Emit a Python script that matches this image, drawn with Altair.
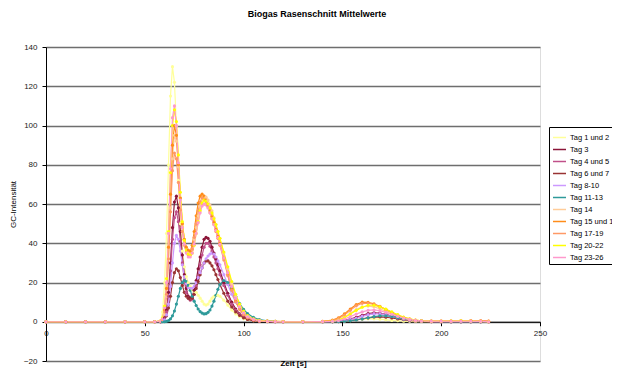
import altair as alt
import pandas as pd

TIME = [0, 10, 20, 30, 40, 50, 55, 58,
        59, 60, 61, 62, 63, 64, 65, 66, 67, 68, 69, 70, 71, 72, 73, 74, 75, 76, 77, 78, 79, 80,
        81, 82, 83, 84, 85, 86, 87, 88, 90, 92, 94, 96, 98, 100, 102, 105, 108, 112, 116, 120,
        130, 140, 145, 148, 151, 154, 157, 160, 163, 166, 169, 172, 175, 178, 181, 184, 187, 190,
        195, 200, 205, 210, 215, 220, 224]

SERIES = ["Tag 1 und 2", "Tag 3", "Tag 4 und 5", "Tag 6 und 7", "Tag 8-10", "Tag 11-13",
          "Tag 14", "Tag 15 und 16", "Tag 17-19", "Tag 20-22", "Tag 23-26"]
COLORS = ["#FFFF99", "#8B1538", "#C0508A", "#993333", "#CC99FF", "#2E9A9A",
          "#FFCC99", "#FF8C1A", "#FF9966", "#FFFF00", "#FF99CC"]

tag_1_2 = [0, 0, 0, 0, 0, 0, 0, 0.5,
           5, 20, 45, 80, 115, 130, 122, 100, 72, 50, 36, 28, 23, 20, 18, 16.5, 15.5, 15, 13.5, 12, 10.5, 9,
           8.5, 9, 10.5, 12, 13, 13.5, 13.5, 13, 11, 8.5, 6, 4, 2.5, 1.5, 1, 0.5, 0.3, 0.2, 0.1, 0,
           0, 0, 0, 0.1, 0.3, 0.6, 1, 1.3, 1.5, 1.5, 1.3, 1, 0.7, 0.5, 0.3, 0.2, 0.1, 0.1,
           0, 0, 0, 0, 0, 0, 0]
tag_3 = [0, 0, 0, 0, 0, 0, 0, 0,
         0.5, 2, 6, 15, 30, 48, 61, 64, 58, 46, 34, 24, 17, 13, 12, 13, 16, 21, 27, 33, 38, 42,
         43, 42.5, 41, 38, 35, 32, 29, 26, 20, 14.5, 10, 6.5, 4, 2.5, 1.5, 0.8, 0.4, 0.2, 0.1, 0,
         0, 0, 0.1, 0.3, 0.7, 1.4, 2.3, 3.3, 4.1, 4.5, 4.3, 3.7, 2.9, 2.1, 1.4, 0.9, 0.5, 0.3,
         0.1, 0, 0, 0, 0, 0, 0]
tag_4_5 = [0, 0, 0, 0, 0, 0, 0, 0,
           0.4, 1.5, 5, 13, 26, 42, 53, 56, 51, 41, 30, 21, 15, 12, 11, 11.5, 14, 18, 23, 29, 34, 38,
           40, 40, 38.5, 36, 33, 30, 27, 24, 18.5, 13.5, 9, 6, 3.8, 2.3, 1.4, 0.7, 0.4, 0.2, 0.1, 0,
           0, 0, 0.1, 0.3, 0.6, 1.2, 2, 3, 3.9, 4.4, 4.3, 3.7, 2.9, 2.1, 1.4, 0.9, 0.5, 0.3,
           0.1, 0, 0, 0, 0, 0, 0]
tag_6_7 = [0, 0, 0, 0, 0, 0, 0, 0,
           0.2, 1, 3, 7, 13, 20, 25, 27, 26, 22.5, 18.5, 15, 13, 12, 11.5, 12, 14, 17, 20.5, 24, 27.5, 30,
           31, 31, 30, 28.5, 26.5, 24, 21.5, 19, 14.5, 10.5, 7.5, 5, 3.2, 2, 1.2, 0.6, 0.3, 0.1, 0, 0,
           0, 0, 0, 0.1, 0.3, 0.6, 1, 1.5, 2, 2.4, 2.5, 2.3, 1.9, 1.4, 1, 0.6, 0.4, 0.2,
           0.1, 0, 0, 0, 0, 0, 0]
tag_8_10 = [0, 0, 0, 0, 0, 0, 0, 0,
            0.2, 1, 3.5, 9, 18, 30, 40, 44, 42, 36, 29, 23, 19.5, 17.5, 17, 17, 18, 20, 22.5, 25, 27.5, 30,
            32, 33.5, 34.5, 35, 34.5, 33, 31, 29, 24, 19, 14, 10, 6.8, 4.5, 2.8, 1.5, 0.8, 0.3, 0.1, 0,
            0, 0, 0.1, 0.3, 0.6, 1.1, 1.8, 2.7, 3.5, 4, 4, 3.5, 2.8, 2, 1.3, 0.8, 0.5, 0.3,
            0.1, 0, 0, 0, 0, 0, 0]
tag_11_13 = [0, 0, 0, 0, 0, 0, 0, 0,
             0, 0, 0.2, 0.6, 1.5, 3, 5.5, 9, 13, 17, 20, 21, 20.5, 18.5, 16, 13, 10.5, 8.3, 6.5, 5.2, 4.4, 4,
             4.1, 4.8, 6, 8, 10.5, 13.5, 16.5, 19, 21, 20, 17, 13, 9.3, 6.3, 4.2, 2.2, 1.1, 0.4, 0.15, 0,
             0, 0, 0, 0.1, 0.2, 0.5, 0.9, 1.4, 2, 2.6, 3, 3, 2.7, 2.1, 1.5, 1, 0.6, 0.4,
             0.2, 0.1, 0, 0, 0, 0, 0]
tag_14 = [0, 0, 0, 0, 0, 0, 0, 0.3,
          1, 4, 13, 32, 58, 83, 95, 92, 79, 63, 50, 42, 37.5, 35.5, 35, 37, 42, 48, 54, 59, 62.5, 64,
          63.5, 62, 59.5, 56.5, 53, 49.5, 46, 42.5, 35, 27, 19.5, 13, 8, 4.8, 2.8, 1.3, 0.6, 0.3, 0.2, 0.1,
          0.1, 0.1, 0.4, 1, 2.3, 4.2, 6.2, 7.6, 8, 7.6, 6.6, 5.3, 4, 2.8, 1.8, 1.1, 0.6, 0.4,
          0.3, 0.3, 0.3, 0.4, 0.3, 0.2, 0]
tag_15_16 = [0, 0, 0, 0, 0, 0, 0, 0.4,
             1.5, 6, 17, 38, 65, 90, 100, 95, 80, 63, 50, 42, 38, 36.5, 36, 39, 46, 54, 60.5, 64, 65, 64,
             62, 59.5, 56.5, 53.5, 50.5, 47, 43.5, 40, 32.5, 24, 16.5, 10.5, 6.5, 3.8, 2.2, 1, 0.5, 0.3, 0.2, 0.1,
             0.1, 0.2, 0.8, 2, 4, 6.5, 8.8, 10, 9.9, 9.1, 7.8, 6.3, 4.8, 3.4, 2.2, 1.4, 0.8, 0.5,
             0.3, 0.3, 0.4, 0.5, 0.6, 0.5, 0.3]
tag_17_19 = [0, 0, 0, 0, 0, 0, 0, 0.3,
             1, 5, 14, 32, 56, 77, 86, 83, 71, 57, 46, 39, 35.5, 34, 34, 37, 43, 50, 56.5, 61, 63, 62.5,
             61, 58.5, 55.5, 52.5, 49.5, 46, 42.5, 39, 31.5, 23.5, 16, 10.2, 6.2, 3.6, 2, 0.9, 0.4, 0.2, 0.1, 0.1,
             0.1, 0.2, 0.6, 1.6, 3.4, 5.8, 8.1, 9.4, 9.5, 8.8, 7.6, 6.1, 4.6, 3.2, 2.1, 1.3, 0.7, 0.4,
             0.3, 0.3, 0.4, 0.5, 0.5, 0.6, 0.4]
tag_20_22 = [0, 0, 0, 0, 0, 0, 0, 0.5,
             2, 8, 22, 46, 76, 100, 108, 102, 85, 66, 51, 41.5, 36.5, 34.5, 34, 35, 39, 45, 51, 56.5, 60.5, 62,
             61.5, 60, 58, 55.5, 52.5, 49.5, 46, 42.5, 35.5, 28, 20.5, 14, 9, 5.5, 3.2, 1.5, 0.7, 0.3, 0.2, 0.1,
             0.1, 0.1, 0.3, 0.9, 2.1, 3.9, 5.8, 7.4, 8.4, 8.4, 7.6, 6.4, 5, 3.6, 2.4, 1.5, 0.9, 0.5,
             0.4, 0.4, 0.5, 0.6, 0.4, 0.2, 0]
tag_23_26 = [0, 0, 0, 0, 0, 0, 0, 0.4,
             1.5, 7, 20, 45, 78, 104, 110, 100, 81, 62, 48, 39.5, 35, 33, 33, 35, 39.5, 45, 50.5, 55.5, 59, 60,
             59.5, 58, 55.5, 52.5, 49.5, 46.5, 43, 39.5, 32.5, 25, 18, 12, 7.5, 4.5, 2.6, 1.2, 0.5, 0.2, 0.1, 0,
             0, 0.1, 0.2, 0.6, 1.4, 2.6, 3.9, 5, 5.8, 6, 5.6, 4.8, 3.8, 2.8, 1.9, 1.2, 0.7, 0.4,
             0.3, 0.3, 0.3, 0.3, 0.3, 0.2, 0]

VALUES = [tag_1_2, tag_3, tag_4_5, tag_6_7, tag_8_10, tag_11_13,
          tag_14, tag_15_16, tag_17_19, tag_20_22, tag_23_26]

rows = []
for k, (name, vals) in enumerate(zip(SERIES, VALUES)):
    assert len(vals) == len(TIME), name
    for t, v in zip(TIME, vals):
        rows.append({"t": t, "v": v, "series": name, "k": k})
df = pd.DataFrame(rows)

FONT = "Liberation Sans"

chart = alt.Chart(df).mark_line(
    strokeWidth=1.2,
    point=alt.OverlayMarkDef(size=10, filled=True),
).encode(
    x=alt.X("t:Q",
            scale=alt.Scale(domain=[0, 250], nice=False, zero=False),
            axis=alt.Axis(values=[0, 50, 100, 150, 200, 250], title="Zeit [s]", grid=False,
                          offset=-39.25, domainColor="#000000", tickColor="#000000",
                          tickSize=4, labelPadding=4, labelFontSize=8, labelFont=FONT,
                          labelColor="#222222", titleFont=FONT, titleFontSize=8,
                          titleFontWeight="bold", titlePadding=22, labelFlush=False)),
    y=alt.Y("v:Q",
            scale=alt.Scale(domain=[-20, 140], nice=False, zero=False),
            axis=alt.Axis(values=[-20, 0, 20, 40, 60, 80, 100, 120, 140], title="GC-Intensität",
                          grid=True, gridColor="#6e6e6e", gridWidth=1.3,
                          domainColor="#000000", tickColor="#000000", tickSize=4,
                          labelPadding=5, labelFontSize=8, labelFont=FONT, labelColor="#222222",
                          titleFont=FONT, titleFontSize=8, titleFontWeight="normal",
                          titlePadding=6)),
    color=alt.Color("series:N",
                    scale=alt.Scale(domain=SERIES, range=COLORS),
                    legend=alt.Legend(title=None, orient="none", legendX=503, legendY=80,
                                      direction="vertical", symbolType="M-1,0L1,0",
                                      symbolSize=169, symbolStrokeWidth=1.5,
                                      strokeColor="#000000", fillColor="#ffffff", padding=3,
                                      rowPadding=1, labelFontSize=7.5, labelFont=FONT,
                                      labelOffset=3, labelColor="#000000", labelLimit=200)),
    order=alt.Order("t:Q"),
    detail="k:N",
).properties(
    width=494,
    height=314,
    autosize="none",
    padding={"left": 38, "top": 39, "right": 72, "bottom": 8},
    title=alt.TitleParams("Biogas Rasenschnitt Mittelwerte", fontSize=9, fontWeight="bold",
                          font=FONT, anchor="middle", dx=24, offset=24, color="#000000"),
).configure_view(
    fill="#C0C0C0", stroke="transparent"
).configure(background="#ffffff")

chart.save("out.html", embed_options={"renderer": "svg", "actions": False})
